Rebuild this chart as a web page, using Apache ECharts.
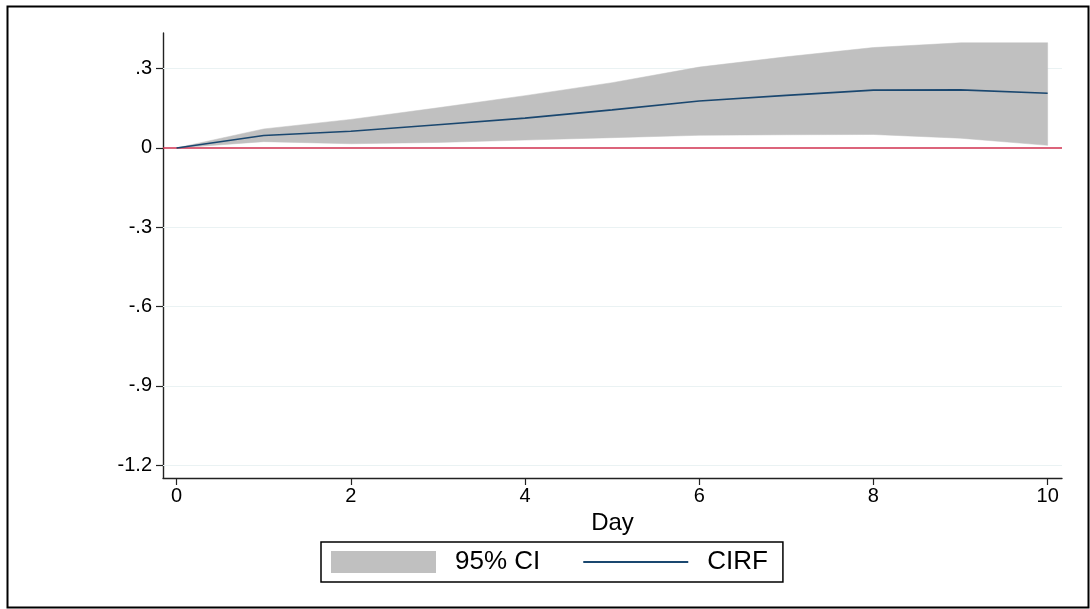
<!DOCTYPE html>
<html><head><meta charset="utf-8">
<script src="https://cdn.jsdelivr.net/npm/echarts@6/dist/echarts.min.js"></script>
<style>html,body{margin:0;padding:0;background:#fff}#c{width:1090px;height:609px}</style>
</head><body><div id="c"></div>
<script>
const days = [0,1,2,3,4,5,6,7,8,9,10];
const cirf = [0, 0.047, 0.063, 0.088, 0.113, 0.144, 0.178, 0.199, 0.219, 0.220, 0.207];
const ciLower = [0, 0.024, 0.016, 0.021, 0.030, 0.039, 0.048, 0.050, 0.051, 0.037, 0.010];
const ciUpper = [0, 0.072, 0.108, 0.152, 0.198, 0.247, 0.306, 0.345, 0.380, 0.398, 0.398];
const xTicks = [0,2,4,6,8,10];
const yTicks = [-1.2,-0.9,-0.6,-0.3,0,0.3];
const yTickLabels = ['-1.2','-.9','-.6','-.3','0','.3'];

const FONT = '"Liberation Sans", Arial, sans-serif';
const chart = echarts.init(document.getElementById('c'), null, {renderer:'canvas'});
const option = {
  backgroundColor:'#fff',
  animation:false,
  graphic:[{type:'rect', left:5, top:4, shape:{x:0,y:0,width:1081,height:601}, style:{fill:'none', stroke:'#000', lineWidth:2}, silent:true, z:0}],
  grid:{left:163, top:33, right:28, bottom:131, containLabel:false},
  xAxis:{type:'value', min:-0.156, max:10.165,
    name:'Day', nameLocation:'middle', nameGap:30,
    nameTextStyle:{fontFamily:FONT, fontSize:24, color:'#000'},
    axisLine:{onZero:false, lineStyle:{color:'#222', width:1.4}},
    axisTick:{show:true, length:7, customValues:xTicks, lineStyle:{color:'#222', width:1.2}},
    axisLabel:{customValues:xTicks, margin:8, fontFamily:FONT, fontSize:20, color:'#000'},
    splitLine:{show:false}},
  yAxis:{type:'value', min:-1.2486, max:0.435,
    axisLine:{show:true, onZero:false, lineStyle:{color:'#222', width:1.4}},
    axisTick:{show:true, length:7, customValues:yTicks, lineStyle:{color:'#222', width:1.2}},
    axisLabel:{customValues:yTicks, margin:11, fontFamily:FONT, fontSize:20, color:'#000',
      formatter:function(v){const i=yTicks.findIndex(t=>Math.abs(t-v)<1e-6);return i>=0?yTickLabels[i]:'';}},
    splitLine:{show:false}},
  legend:{left:321, top:542, orient:'horizontal',
    padding:[7,15,7,10], itemWidth:105, itemHeight:22, itemGap:42,
    borderColor:'#000', borderWidth:1.5, borderRadius:0,
    textStyle:{fontFamily:FONT, fontSize:26, color:'#000', lineHeight:22, padding:[0,0,0,14]},
    data:[{name:'95% CI', icon:'rect'},
          {name:'CIRF', itemStyle:{color:'rgba(0,0,0,0)', borderColor:'rgba(0,0,0,0)', borderWidth:0}}]},
  series:[
    {name:'grid', type:'line', data:[], silent:true, z:1,
      markLine:{silent:true, z:1, symbol:'none', label:{show:false}, animation:false,
        lineStyle:{color:'#eaf2f3', width:1.2, type:'solid'},
        data:yTicks.filter(t=>t!==0).map(t=>({yAxis:t}))}},
    {name:'95% CI', type:'custom', z:2, silent:true,
      itemStyle:{color:'#c0c0c0'},
      data:days.map((d,i)=>[d, ciLower[i], ciUpper[i]]),
      encode:{x:0, y:[1,2]},
      renderItem:function(params, api){
        if(params.dataIndex!==0) return null;
        const pts=[];
        for(let i=0;i<days.length;i++) pts.push(api.coord([days[i], ciUpper[i]]));
        for(let i=days.length-1;i>=0;i--) pts.push(api.coord([days[i], ciLower[i]]));
        return {type:'polygon', shape:{points:pts}, style:{fill:'#c0c0c0', stroke:'#c0c0c0', lineWidth:0.5}};
      }},
    {name:'zero', type:'line', data:[], silent:true, z:3,
      markLine:{silent:true, z:3, symbol:'none', label:{show:false}, animation:false,
        lineStyle:{color:'#d0304f', width:1.6, type:'solid'},
        data:[{yAxis:0}]}},
    {name:'CIRF', type:'line', z:4, symbol:'none', showSymbol:false,
      data:days.map((d,i)=>[d, cirf[i]]),
      lineStyle:{color:'#1a476f', width:1.6}, itemStyle:{color:'#1a476f'}}
  ]
};
chart.setOption(option);
</script>
</body></html>
